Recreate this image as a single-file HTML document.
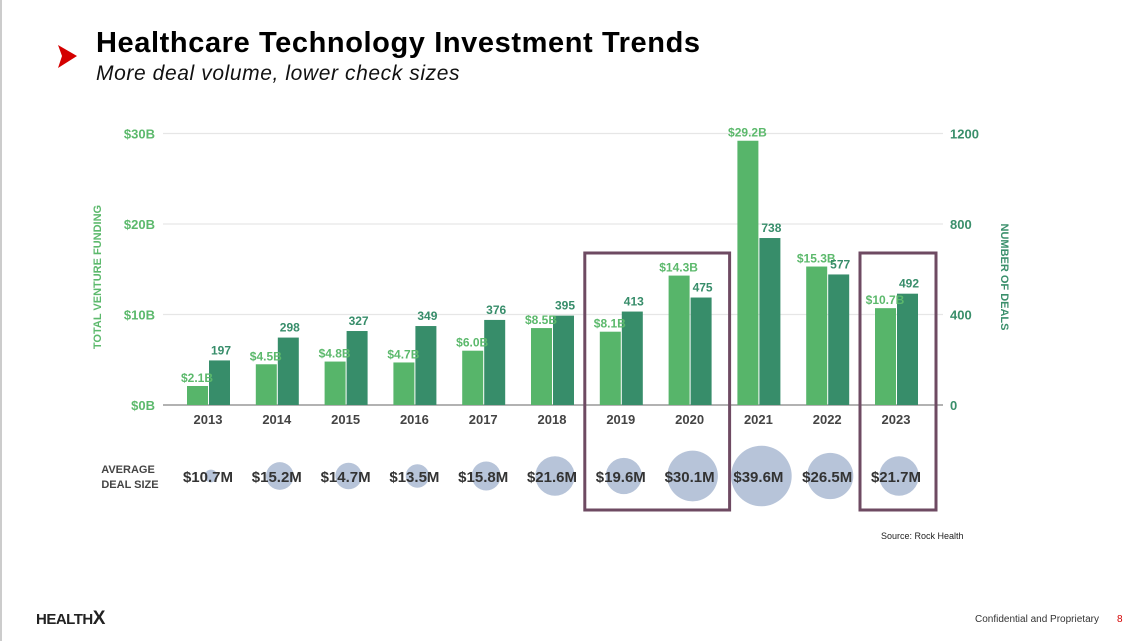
<!DOCTYPE html>
<html><head><meta charset="utf-8">
<style>
html,body{margin:0;padding:0;background:#fff;}
body{width:1146px;height:641px;overflow:hidden;position:relative;font-family:"Liberation Sans",sans-serif;}
</style></head>
<body>
<div style="position:absolute;left:0;top:0;width:2px;height:641px;background:#ccc"></div>
<svg width="1146" height="641" style="position:absolute;left:0;top:0">
  <polygon points="58,45 77,56 58,68 62,56" fill="#d40000"/>
  <text x="96" y="52" font-size="29" font-weight="bold" fill="#000" letter-spacing="0.6">Healthcare Technology Investment Trends</text>
  <text x="96" y="80" font-size="21" font-style="italic" fill="#111" letter-spacing="0.6">More deal volume, lower check sizes</text>
  <g id="chart"></g>
  <text x="881" y="539" font-size="9" fill="#222">Source:  Rock Health</text>
  <text x="36" y="624" font-size="15" font-weight="bold" fill="#222" letter-spacing="-0.5">HEALTH<tspan fill="#222" font-size="19">X</tspan></text>
  <text x="975" y="622" font-size="10" fill="#333">Confidential and Proprietary</text>
  <text x="1117" y="622" font-size="10" fill="#d40000">8</text>
</svg>
<script>
const years=['2013','2014','2015','2016','2017','2018','2019','2020','2021','2022','2023'];
const funding=[2.1,4.5,4.8,4.7,6.0,8.5,8.1,14.3,29.2,15.3,10.7];
const deals=[197,298,327,349,376,395,413,475,738,577,492];
const dealSize=[10.7,15.2,14.7,13.5,15.8,21.6,19.6,30.1,39.6,26.5,21.7];
const leftTicks=[0,10,20,30];
const rightTicks=[0,400,800,1200];
const highlightGroups=[[6,7],[10,10]];

const NS='http://www.w3.org/2000/svg';
const g=document.getElementById('chart');
const x0=163,x1=943,yTop=133.5,yBase=405;
const firstC=208,lastC=896;
const step=(lastC-firstC)/(years.length-1);
const cx=i=>firstC+step*i;
const yL=v=>yBase-(v/30)*(yBase-yTop);
const yR=v=>yBase-(v/1200)*(yBase-yTop);
const rB=v=>2+5.2*Math.sqrt(Math.max(v-10,0));
function mk(tag,attrs,txt){const e=document.createElementNS(NS,tag);for(const k in attrs)e.setAttribute(k,attrs[k]);if(txt!==undefined)e.textContent=txt;g.appendChild(e);return e;}
const F='"Liberation Sans",sans-serif';
leftTicks.forEach((t,i)=>{
  const y=yL(t);
  if(t>0){const l=mk('line',{x1:x0,x2:x1,y1:y,y2:y,stroke:'#e6e6e6','stroke-width':1.2});
  
  }
  const tx=mk('text',{x:155,y:y+5,'text-anchor':'end','font-size':13,'font-weight':'bold',fill:'#5cb96c','font-family':F},'$'+t+'B');
  
  
});
rightTicks.forEach(t=>{
  const tx=mk('text',{x:950,y:yR(t)+5,'font-size':13,'font-weight':'bold',fill:'#3a8f6b','font-family':F},String(t));
  
  
});
const base=mk('line',{x1:x0,x2:x1,y1:yBase,y2:yBase,stroke:'#999','stroke-width':1.5});


years.forEach((yr,i)=>{
  const c=cx(i);
  const yf=yL(funding[i]);
  const b1=mk('rect',{x:c-21,y:yf,width:21,height:yBase-yf,fill:'#57b56a'});
  
  
  const yd=yR(deals[i]);
  const b2=mk('rect',{x:c+1,y:yd,width:21,height:yBase-yd,fill:'#378d6a'});
  
  
  const l1=mk('text',{x:c-11,y:yf-4,'text-anchor':'middle','font-size':12,'font-weight':'bold',fill:'#5cb96c','font-family':F},'$'+funding[i].toFixed(1)+'B');
  
  
  const l2=mk('text',{x:c+13,y:yd-6,'text-anchor':'middle','font-size':12,'font-weight':'bold',fill:'#378d6a','font-family':F},String(deals[i]));
  
  
  const yl=mk('text',{x:c,y:424,'text-anchor':'middle','font-size':13,'font-weight':'bold',fill:'#444','font-family':F},yr);
  
  
  const bub=mk('circle',{cx:c+3,cy:476,r:rB(dealSize[i]),fill:'#b7c4d9'});
  
  
  const bl=mk('text',{x:c,y:482,'text-anchor':'middle','font-size':15,'font-weight':'bold',fill:'#333','font-family':F},'$'+dealSize[i].toFixed(1)+'M');
  
  
});
highlightGroups.forEach(([a,b])=>{
  const r=mk('rect',{x:cx(a)-36,y:253,width:cx(b)-cx(a)+(a===b?76:76),height:257,fill:'none',stroke:'#6e4a62','stroke-width':3});
  
  
});
const at1=mk('text',{x:0,y:0,'text-anchor':'middle','font-size':11,'font-weight':'bold',fill:'#5cb96c','font-family':F,transform:'translate(101,277) rotate(-90)'},'TOTAL VENTURE FUNDING');


const at2=mk('text',{x:0,y:0,'text-anchor':'middle','font-size':11,'font-weight':'bold',fill:'#3a8f6b','font-family':F,transform:'translate(1001,277) rotate(90)'},'NUMBER OF DEALS');


const ad1=mk('text',{x:128,y:473,'text-anchor':'middle','font-size':11,'font-weight':'bold',fill:'#444','font-family':F},'AVERAGE');


const ad2=mk('text',{x:130,y:488,'text-anchor':'middle','font-size':11,'font-weight':'bold',fill:'#444','font-family':F},'DEAL SIZE');


</script>
</body></html>
